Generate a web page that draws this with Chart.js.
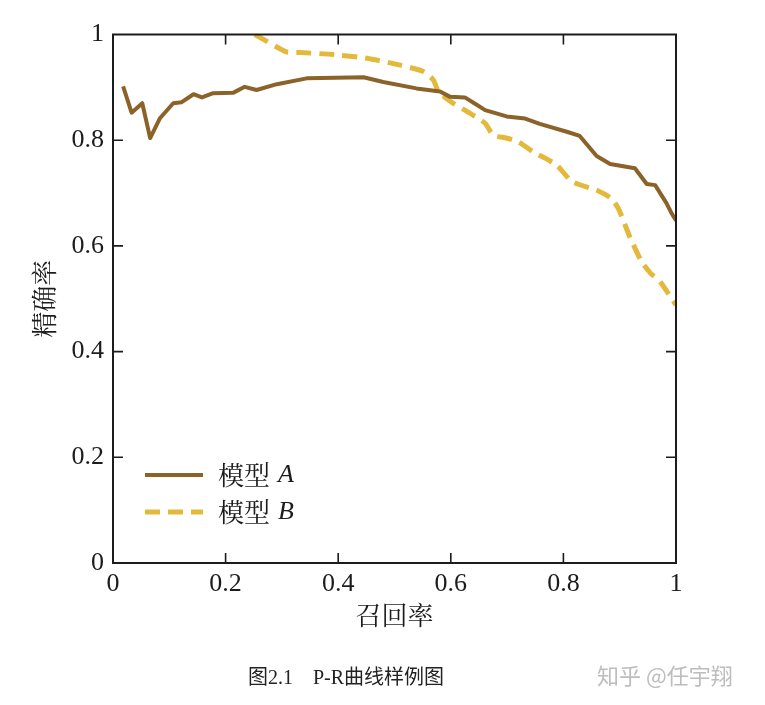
<!DOCTYPE html>
<html>
<head>
<meta charset="utf-8">
<script src="https://cdn.jsdelivr.net/npm/chart.js@4.4.0/dist/chart.umd.min.js"></script>
<style>
  html, body { margin: 0; padding: 0; background: #fff; }
  #wrap { position: relative; width: 765px; height: 705px; }
  canvas { display: block; }
  #caption { position: absolute; left: 248px; top: 661px; font: 20px "Liberation Serif", "Noto Sans CJK SC", serif; color: #222; white-space: pre; }
  #mark { position: absolute; left: 597px; top: 658px; font: 22px "Noto Sans CJK SC", sans-serif; color: #bdbdbd; white-space: pre; }
</style>
</head>
<body>
<div id="wrap">
  <canvas id="c" width="765" height="705"></canvas>
  <div id="caption">图2.1    P-R曲线样例图</div>
  <div id="mark">知乎 @任宇翔</div>
</div>
<script>
// ---- data ----
const seriesNames = ['模型 A', '模型 B'];
const recallA = [0.018,0.033,0.052,0.066,0.083,0.107,0.122,0.143,0.158,0.178,0.214,0.234,0.255,0.291,0.344,0.445,0.480,0.539,0.581,0.599,0.625,0.646,0.661,0.699,0.732,0.758,0.806,0.829,0.859,0.883,0.927,0.948,0.963,0.983,0.992,1.0];
const precisionA = [0.902,0.852,0.870,0.804,0.841,0.870,0.872,0.887,0.881,0.889,0.890,0.901,0.895,0.906,0.917,0.919,0.910,0.898,0.892,0.882,0.881,0.867,0.857,0.845,0.841,0.831,0.816,0.808,0.770,0.755,0.747,0.717,0.715,0.681,0.662,0.648];
const recallB = [0.252,0.308,0.332,0.391,0.451,0.510,0.551,0.569,0.578,0.604,0.634,0.661,0.675,0.699,0.720,0.746,0.787,0.815,0.862,0.885,0.898,0.918,0.939,0.955,0.972,1.0];
const precisionB = [1.0,0.967,0.966,0.962,0.955,0.942,0.930,0.914,0.892,0.870,0.851,0.832,0.810,0.804,0.797,0.778,0.754,0.722,0.704,0.690,0.670,0.617,0.570,0.548,0.532,0.488];
const xTicks = [0, 0.2, 0.4, 0.6, 0.8, 1];
const yTicks = [0, 0.2, 0.4, 0.6, 0.8, 1];
const xTitle = '召回率';
const yTitle = '精确率';

const colorA = '#8b6329';
const colorB = '#e2b93b';
const ink = '#1c1c1c';
const serif = '"Liberation Serif", "Times New Roman", serif';
const cjk = '"Noto Serif CJK SC", "Noto Sans CJK SC", sans-serif';

const toPts = (xs, ys) => xs.map((x, i) => ({ x: x, y: ys[i] }));

const frameTicks = {
  id: 'frameTicks',
  afterDatasetsDraw(chart) {
    const { ctx, chartArea: a, scales } = chart;
    ctx.save();
    ctx.strokeStyle = ink;
    ctx.lineWidth = 2;
    ctx.strokeRect(a.left, a.top, a.right - a.left, a.bottom - a.top);
    ctx.lineWidth = 1.6;
    const L = 10;
    ctx.beginPath();
    xTicks.forEach(v => {
      const px = scales.x.getPixelForValue(v);
      if (v === 0 || v === 1) return;
      ctx.moveTo(px, a.bottom); ctx.lineTo(px, a.bottom - L);
      ctx.moveTo(px, a.top); ctx.lineTo(px, a.top + L);
    });
    yTicks.forEach(v => {
      const py = scales.y.getPixelForValue(v);
      if (v === 0 || v === 1) return;
      ctx.moveTo(a.left, py); ctx.lineTo(a.left + L, py);
      ctx.moveTo(a.right, py); ctx.lineTo(a.right - L, py);
    });
    ctx.stroke();
    ctx.restore();
  }
};

const customLegend = {
  id: 'customLegend',
  afterDraw(chart) {
    const { ctx } = chart;
    const x0 = 145, x1 = 203, tx = 218;
    const rows = [475, 512];
    ctx.save();
    chart.data.datasets.forEach((ds, i) => {
      const y = rows[i];
      ctx.strokeStyle = ds.borderColor;
      ctx.lineWidth = ds.borderWidth;
      ctx.setLineDash(ds.borderDash || []);
      ctx.lineCap = 'butt';
      ctx.beginPath();
      ctx.moveTo(x0, y); ctx.lineTo(x1, y);
      ctx.stroke();
      ctx.setLineDash([]);
      const parts = seriesNames[i].split(' ');
      ctx.fillStyle = ink;
      ctx.textBaseline = 'middle';
      ctx.textAlign = 'left';
      ctx.font = '26px ' + cjk;
      ctx.fillText(parts[0], tx, y);
      const w = ctx.measureText(parts[0]).width;
      ctx.font = 'italic 26px ' + serif;
      ctx.fillText(parts[1], tx + w + 8, y);
    });
    ctx.restore();
  }
};

new Chart(document.getElementById('c'), {
  type: 'scatter',
  data: {
    datasets: [
      { label: seriesNames[0], data: toPts(recallA, precisionA), showLine: true, borderColor: colorA, backgroundColor: colorA, borderWidth: 4, pointRadius: 0, tension: 0, borderJoinStyle: 'round' },
      { label: seriesNames[1], data: toPts(recallB, precisionB), showLine: true, borderColor: colorB, backgroundColor: colorB, borderWidth: 5, borderDash: [15, 8], pointRadius: 0, tension: 0.2, borderCapStyle: 'butt' }
    ]
  },
  options: {
    responsive: false,
    animation: false,
    layout: { padding: { top: 34.5, right: 89, left: 0, bottom: 0 } },
    plugins: { legend: { display: false }, tooltip: { enabled: false } },
    scales: {
      x: {
        type: 'linear', min: 0, max: 1,
        afterFit(s) { s.height = 142; },
        afterBuildTicks(s) { s.ticks = xTicks.map(v => ({ value: v })); },
        ticks: { color: ink, font: { family: serif, size: 26 }, padding: 6, maxRotation: 0, autoSkip: false, callback: v => String(v) },
        grid: { display: false, drawTicks: false },
        border: { display: false },
        title: { display: true, text: xTitle, color: ink, font: { family: cjk, size: 26 }, padding: { bottom: 74 } }
      },
      y: {
        type: 'linear', min: 0, max: 1,
        afterFit(s) { s.width = 113; },
        afterBuildTicks(s) { s.ticks = yTicks.map(v => ({ value: v })); },
        ticks: { color: ink, font: { family: serif, size: 26 }, padding: 9, autoSkip: false, callback: v => String(v) },
        grid: { display: false, drawTicks: false },
        border: { display: false },
        title: { display: true, text: yTitle, color: ink, font: { family: cjk, size: 26 }, padding: { top: 29 } }
      }
    }
  },
  plugins: [frameTicks, customLegend]
});
</script>
</body>
</html>
